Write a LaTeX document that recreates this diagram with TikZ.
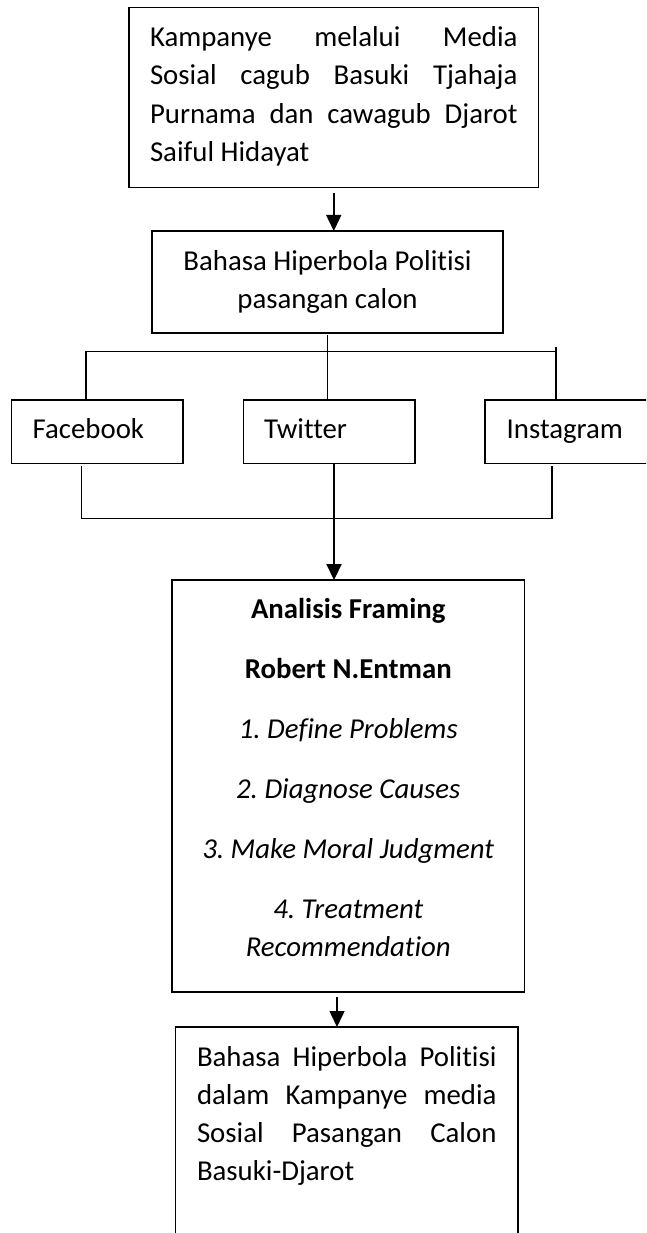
\documentclass[tikz,border=0pt]{standalone}
\usepackage{fontspec}
\setmainfont{Carlito}[Ligatures={NoCommon,NoRequired,NoContextual}]
\usetikzlibrary{arrows.meta}
\frenchspacing
\newcommand{\txtsize}{\fontsize{28.8pt}{38.3pt}\selectfont}
\newcommand{\loose}{\tolerance=10000\hbadness=10000\emergencystretch=0pt}
\begin{document}
\begin{tikzpicture}[x=1pt,y=-1pt,
  box/.style={draw, line width=1.4pt, inner sep=0pt, outer sep=0pt, anchor=north west, font=\txtsize},
  conn/.style={line width=1.5pt},
  thinconn/.style={line width=0.9pt},
  arr/.style={line width=1.5pt, -{Triangle[length=16pt,width=15pt]}},
  thickarr/.style={line width=2.2pt, -{Triangle[length=16pt,width=15pt]}}]
\useasboundingbox (0,0) rectangle (646,1233);
\fill[white] (0,0) rectangle (646,1233);
\clip (0,0) rectangle (646,1233);

% boxes
\node[box, inner xsep=21pt] (kamp) at (129,7.3)
 {\parbox[c][180.4pt][t]{367.5pt}{\frenchspacing\loose\rule{0pt}{39.4pt}Kampanye~melalui~Media\break Sosial~cagub~Basuki~Tjahaja\break Purnama~dan~cawagub~Djarot\break Saiful Hidayat}};

\node[box] (hip) at (152,231)
 {\parbox[c][102pt][t]{351pt}{\centering\rule{0pt}{39pt}Bahasa Hiperbola Politisi\\pasangan calon}};

\node[box, inner xsep=0pt] (fb) at (11.3,400)
 {\parbox[c][63.3pt][t]{171.7pt}{\hspace*{21.4pt}\rule{0pt}{38.3pt}Facebook}};
\node[box] (tw) at (243.5,400)
 {\parbox[c][63.3pt][t]{171.5pt}{\hspace*{20.5pt}\rule{0pt}{38.3pt}Twitter}};
\node[box] (ig) at (485,400)
 {\parbox[c][63.3pt][t]{180pt}{\hspace*{21.7pt}\rule{0pt}{38.3pt}Instagram}};

\node[box] (fr) at (172,580)
 {\parbox[c][412pt][t]{352.5pt}{\frenchspacing\centering\parskip=21.7pt
  \rule{0pt}{38.3pt}\textbf{Analisis Framing}\par
  \textbf{Robert N.Entman}\par
  \textit{1. Define Problems}\par
  \textit{2. Diagnose Causes}\par
  \textit{3. Make Moral Judgment}\par
  \textit{4. Treatment\\Recommendation}\par}};

\node[box, inner xsep=21.5pt] (res) at (175.5,1027)
 {\parbox[c][230pt][t]{299.5pt}{\loose\rule{0pt}{39pt}Bahasa~Hiperbola~Politisi\break dalam~Kampanye~media\break Sosial~Pasangan~Calon\break Basuki-Djarot}};

% helper coordinates
\coordinate (ul) at (86,351.7);
\coordinate (ur) at (556,351.7);
\coordinate (urtop) at (556,347.3);
\coordinate (ll) at (81.7,518.3);
\coordinate (lr) at (552,518.3);
\coordinate (tx) at (334,0);
\coordinate (ax) at (337,0);

% connectors
\draw[arr] ([yshift=-5.5pt]kamp.south) -- (kamp.south |- hip.north);
\draw[thinconn] ([yshift=-2pt]hip.south) -- (hip.south |- tw.north);
\draw[conn] (fb.north -| ul) -- (ul) -- (ur);
\draw[conn] (urtop) -- (ig.north -| urtop);
\draw[conn] ([yshift=-2.7pt]fb.south -| ll) -- (ll) -- (lr) -- ([yshift=-2.7pt]ig.south -| lr);
\draw[thickarr] (tw.south -| tx) -- (fr.north -| tx);
\draw[arr] ([yshift=-5pt]fr.south -| ax) -- (res.north -| ax);
\end{tikzpicture}
\end{document}
